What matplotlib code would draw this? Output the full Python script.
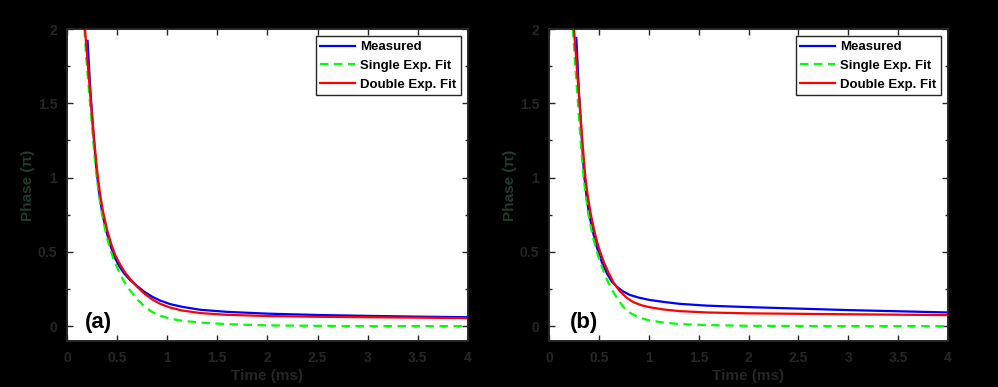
"""
Phase decay vs time, measured curve against single and double exponential fits.
Two panels: (a) and (b).
"""
import matplotlib
matplotlib.use("Agg")
import matplotlib.pyplot as plt
from matplotlib.ticker import MultipleLocator

# ---- panel (a) ----
a_meas_t = [0.206, 0.23, 0.26, 0.29, 0.32, 0.35, 0.39, 0.43, 0.47, 0.52, 0.57, 0.63,
            0.70, 0.77, 0.85, 0.93, 1.03, 1.15, 1.33, 1.6, 2.0, 2.5, 3.0, 3.5, 4.0]
a_meas_v = [1.92, 1.62, 1.33, 1.08, 0.90, 0.77, 0.645, 0.55, 0.47, 0.405, 0.355, 0.31,
            0.27, 0.232, 0.198, 0.172, 0.148, 0.130, 0.110, 0.096, 0.084, 0.075, 0.069, 0.064, 0.060]

a_single_t = [0.173, 0.20, 0.233, 0.26, 0.29, 0.32, 0.35, 0.39, 0.43, 0.47, 0.52, 0.57,
              0.63, 0.70, 0.77, 0.85, 0.93, 1.03, 1.15, 1.33, 1.6, 2.0, 2.5, 3.0, 4.0]
a_single_v = [2.0, 1.74, 1.48, 1.26, 1.04, 0.88, 0.75, 0.62, 0.52, 0.44, 0.365, 0.30,
              0.24, 0.18, 0.135, 0.095, 0.07, 0.05, 0.036, 0.024, 0.013, 0.005, 0.002, 0.0, 0.0]

a_double_t = [0.18, 0.21, 0.24, 0.27, 0.30, 0.33, 0.36, 0.40, 0.44, 0.48, 0.53, 0.58,
              0.64, 0.70, 0.77, 0.85, 0.93, 1.03, 1.15, 1.33, 1.6, 2.0, 2.5, 3.0, 3.5, 4.0]
a_double_v = [2.0, 1.74, 1.5, 1.26, 1.05, 0.89, 0.77, 0.65, 0.555, 0.48, 0.415, 0.36,
              0.31, 0.265, 0.22, 0.18, 0.15, 0.125, 0.105, 0.088, 0.076, 0.068, 0.063, 0.060,
              0.057, 0.054]

# ---- panel (b) ----
b_meas_t = [0.274, 0.30, 0.325, 0.35, 0.375, 0.40, 0.44, 0.48, 0.53, 0.58, 0.63, 0.68,
            0.74, 0.81, 0.90, 1.01, 1.15, 1.31, 1.58, 2.0, 2.5, 3.0, 3.5, 4.0]
b_meas_v = [1.94, 1.58, 1.30, 1.03, 0.88, 0.76, 0.635, 0.53, 0.43, 0.355, 0.30, 0.265,
            0.235, 0.21, 0.192, 0.176, 0.163, 0.150, 0.138, 0.128, 0.118, 0.108, 0.100, 0.092]

b_single_t = [0.24, 0.265, 0.294, 0.32, 0.344, 0.37, 0.395, 0.44, 0.485, 0.53, 0.58, 0.63,
              0.69, 0.75, 0.81, 0.90, 1.01, 1.15, 1.31, 1.58, 2.0, 3.0, 4.0]
b_single_v = [2.0, 1.74, 1.47, 1.22, 1.02, 0.87, 0.75, 0.60, 0.49, 0.40, 0.315, 0.245,
              0.18, 0.125, 0.09, 0.058, 0.038, 0.024, 0.014, 0.007, 0.002, 0.0, 0.0]

b_double_t = [0.25, 0.28, 0.31, 0.34, 0.365, 0.39, 0.42, 0.46, 0.50, 0.55, 0.60, 0.65,
              0.71, 0.78, 0.85, 0.93, 1.01, 1.15, 1.31, 1.58, 2.0, 2.5, 3.0, 3.5, 4.0]
b_double_v = [2.0, 1.73, 1.47, 1.20, 1.0, 0.87, 0.75, 0.625, 0.525, 0.43, 0.355, 0.29,
              0.235, 0.19, 0.16, 0.14, 0.127, 0.112, 0.101, 0.092, 0.086, 0.083, 0.080,
              0.077, 0.074]

panel_labels = ["(a)", "(b)"]
panel_label_x = [0.18, 0.21]
legend_labels = ["Measured", "Single Exp. Fit", "Double Exp. Fit"]

AX_COLOR = "#262626"


def style_axes(ax):
    ax.set_xlim(0, 4)
    ax.set_ylim(-0.1, 2)
    ax.yaxis.set_minor_locator(MultipleLocator(0.25))
    ax.set_xticks([0, 0.5, 1, 1.5, 2, 2.5, 3, 3.5, 4])
    ax.set_xticklabels(["0", "0.5", "1", "1.5", "2", "2.5", "3", "3.5", "4"])
    ax.set_yticks([0, 0.5, 1, 1.5, 2])
    ax.set_yticklabels(["0", "0.5", "1", "1.5", "2"])
    ax.tick_params(which="both", direction="in", top=True, right=True,
                   color=AX_COLOR, labelcolor=AX_COLOR, labelsize=10, width=1.0)
    ax.tick_params(which="major", length=4, pad=7)
    ax.tick_params(which="minor", length=2.5)
    for lab in ax.get_xticklabels() + ax.get_yticklabels():
        lab.set_fontweight("bold")
    for sp in ax.spines.values():
        sp.set_color(AX_COLOR)
        sp.set_linewidth(1.4)
    ax.set_xlabel("Time (ms)", fontsize=11, fontweight="bold", color=AX_COLOR, labelpad=3)
    ax.set_ylabel("Phase (\u03c0)", fontsize=11, fontweight="bold", color="#1f3d2c", labelpad=2)


def main():
    plt.rcParams["font.family"] = ["Liberation Sans", "DejaVu Sans"]
    fig = plt.figure(figsize=(9.98, 3.87), dpi=100, facecolor="black")
    axes = [fig.add_axes([0.0671, 0.1189, 0.4018, 0.8061]),
            fig.add_axes([0.5501, 0.1189, 0.3998, 0.8061])]

    data = [
        (a_meas_t, a_meas_v, a_single_t, a_single_v, a_double_t, a_double_v),
        (b_meas_t, b_meas_v, b_single_t, b_single_v, b_double_t, b_double_v),
    ]
    for ax, d, tag, tx in zip(axes, data, panel_labels, panel_label_x):
        mt, mv, st, sv, dt, dv = d
        ax.set_facecolor("white")
        ax.plot(mt, mv, color="#0000ff", lw=1.6, label=legend_labels[0])
        ax.plot(st, sv, color="#00ff00", lw=1.6, linestyle=(0, (3.8, 2.5)),
                label=legend_labels[1])
        ax.plot(dt, dv, color="#ff0000", lw=1.6, label=legend_labels[2])
        style_axes(ax)
        ax.text(tx, 0.027, tag, fontsize=16, fontweight="bold", color="black",
                va="center", ha="left")
        leg = ax.legend(loc="upper right", fontsize=9.5, handlelength=2.65,
                        handletextpad=0.35, borderpad=0.35, labelspacing=0.5,
                        borderaxespad=0.55, fancybox=False, framealpha=1)
        leg.get_frame().set_edgecolor(AX_COLOR)
        leg.get_frame().set_linewidth(1.0)
        for t in leg.get_texts():
            t.set_fontweight("bold")

    fig.savefig("out.png", dpi=100, facecolor="black")


if __name__ == "__main__":
    main()
